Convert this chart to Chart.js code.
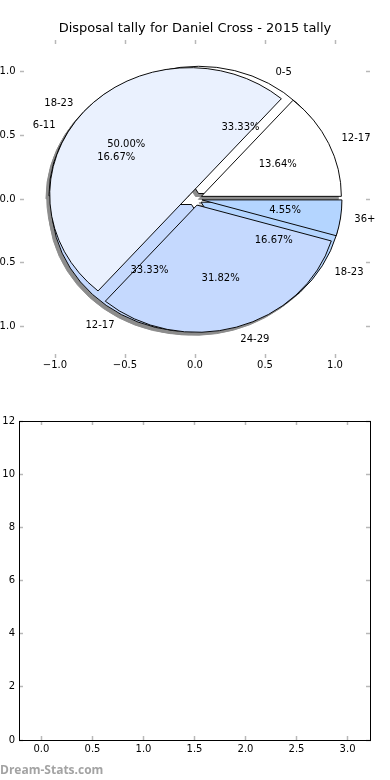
<!DOCTYPE html>
<html><head><meta charset="utf-8">
<script src="https://cdn.jsdelivr.net/npm/chart.js@4.4.1/dist/chart.umd.min.js"></script>
<style>
html,body{margin:0;padding:0;background:#fff;}
#wrap{position:relative;width:390px;height:780px;overflow:hidden;background:#fff;}
.layer{position:absolute;left:0;}
#pies{position:absolute;left:0;top:0;width:390px;height:390px;filter:drop-shadow(-3px 3px 0.5px rgba(0,0,0,0.45));}
#wm{position:absolute;left:0;top:761px;font:bold 12px "Open Sans";color:#a3a3a3;white-space:nowrap;}
</style></head><body>
<div id="wrap">
 <div id="pies">
  <canvas id="pieY" class="layer" width="390" height="390" style="top:0"></canvas>
  <canvas id="pieX" class="layer" width="390" height="390" style="top:0"></canvas>
 </div>
 <canvas id="axesTop" class="layer" width="390" height="390" style="top:0"></canvas>
 <canvas id="bottom" class="layer" width="390" height="390" style="top:390px"></canvas>
 <div id="wm">Dream-Stats.com</div>
</div>
<script>
// ---- data ----
const chartTitle = 'Disposal tally for Daniel Cross - 2015 tally';
const outerCategories = ['12-17', '18-23', '24-29', '36+'];
const outerValues = [3, 11, 7, 1];
const innerCategories = ['0-5', '6-11', '12-17', '18-23'];
const innerValues = [2, 1, 2, 1];
const sliceColors = ['#ffffff', '#eaf1fe', '#c5d9fe', '#b4d5ff'];
const pieTicks = [-1, -0.5, 0, 0.5, 1];
const lowerXTicks = [0, 0.5, 1, 1.5, 2, 2.5, 3];
const lowerYTicks = [0, 2, 4, 6, 8, 10, 12];
const lowerSeries = [];

// ---- styling helpers ----
const FONT = '"DejaVu Sans", sans-serif';
const EXPLODE = 0.05;
const fmt1 = v => (v < 0 ? '\u2212' : '') + Math.abs(v).toFixed(1);
const fmt0 = v => String(v);

function mkScale(position, ticksArr, fmtFn, showLabels, frame, fitSize, pad, min, max) {
  const vertical = position === 'left' || position === 'right';
  return {
    type: 'linear', position, min, max,
    afterBuildTicks: s => { s.ticks = ticksArr.map(v => ({ value: v })); },
    afterFit: s => { if (vertical) s.width = fitSize; else s.height = fitSize; },
    ticks: { display: showLabels, callback: v => fmtFn(v), padding: pad, color: '#000',
             font: { family: FONT, size: 10 }, autoSkip: false, maxRotation: 0, minRotation: 0 },
    grid: { display: true, drawOnChartArea: false, drawTicks: true, tickLength: -4,
            tickColor: '#b8b8b8', tickWidth: 1.5 },
    border: { display: frame, color: '#000', width: 1 }
  };
}

let pies = [];
let geo = null;

const labelPlugin = {
  id: 'pieLabels',
  afterDraw(chart) {
    if (!geo || !pies.length) return;
    const ctx = chart.ctx;
    ctx.save();
    ctx.font = '10px ' + FONT;
    ctx.fillStyle = '#000';
    ctx.textBaseline = 'middle';
    pies.forEach(p => {
      const meta = p.getDatasetMeta(0);
      const data = p.data.datasets[0].data;
      const total = data.reduce((a, b) => a + b, 0);
      meta.data.forEach((arc, i) => {
        const mid = (arc.startAngle + arc.endAngle) / 2;
        const c = Math.cos(mid), s = Math.sin(mid);
        const lx = geo.cx + (EXPLODE + 1.1) * geo.R * c;
        const ly = geo.cy + (EXPLODE + 1.1) * geo.R * geo.ky * s;
        ctx.textAlign = c > 0 ? 'left' : 'right';
        ctx.fillText(p.data.labels[i], lx, ly);
        const px = geo.cx + (EXPLODE + 0.6) * geo.R * c;
        const py = geo.cy + (EXPLODE + 0.6) * geo.R * geo.ky * s;
        ctx.textAlign = 'center';
        ctx.fillText((data[i] / total * 100).toFixed(2) + '%', px, py);
      });
    });
    ctx.restore();
  }
};

const axesTop = new Chart(document.getElementById('axesTop'), {
  type: 'scatter',
  data: { datasets: [{ data: [] }] },
  options: {
    responsive: false, animation: false, devicePixelRatio: 1, events: [],
    layout: { padding: 0 },
    plugins: {
      legend: { display: false }, tooltip: { enabled: false },
      title: { display: true, text: chartTitle, color: '#000',
               font: { family: FONT, size: 13, weight: 'normal', lineHeight: 1.2 },
               padding: { top: 21, bottom: 0 } }
    },
    scales: {
      x: mkScale('bottom', pieTicks, fmt1, true, false, 32, 5, -1.25, 1.25),
      x2: mkScale('top', pieTicks, fmt1, false, false, 3.4, 0, -1.25, 1.25),
      y: mkScale('left', pieTicks, fmt1, true, false, 20, 8.5, -1.25, 1.25),
      y2: mkScale('right', pieTicks, fmt1, false, false, 20, 0, -1.25, 1.25)
    }
  },
  plugins: [labelPlugin]
});

const xs = axesTop.scales.x, ys = axesTop.scales.y, area = axesTop.chartArea;
geo = {
  cx: xs.getPixelForValue(0),
  cy: ys.getPixelForValue(0),
  R: xs.getPixelForValue(1) - xs.getPixelForValue(0)
};
geo.ky = (ys.getPixelForValue(0) - ys.getPixelForValue(1)) / geo.R;

const explodePlugin = {
  id: 'explode',
  afterDatasetsUpdate(chart) {
    chart.getDatasetMeta(0).data.forEach(arc => {
      const mid = (arc.startAngle + arc.endAngle) / 2;
      arc.x += EXPLODE * geo.R * Math.cos(mid);
      arc.y += EXPLODE * geo.R * Math.sin(mid);
    });
  },
  beforeDatasetsDraw(chart) {
    const c = chart.ctx;
    c.save();
    c.translate(geo.cx, geo.cy);
    c.scale(1, geo.ky);
    c.translate(-geo.cx, -geo.cy);
  },
  afterDatasetsDraw(chart) { chart.ctx.restore(); }
};

function makePie(id, cats, vals) {
  const order = cats.map((_, i) => i).reverse(); // counter-clockwise like the source
  return new Chart(document.getElementById(id), {
    type: 'pie',
    data: {
      labels: order.map(i => cats[i]),
      datasets: [{
        data: order.map(i => vals[i]),
        backgroundColor: order.map(i => sliceColors[i % sliceColors.length]),
        borderColor: '#000', borderWidth: 1, borderJoinStyle: 'miter',
        radius: geo.R, clip: false
      }]
    },
    options: {
      responsive: false, animation: false, devicePixelRatio: 1, events: [],
      rotation: 90, radius: geo.R,
      layout: { padding: { left: area.left, right: 390 - area.right, top: area.top, bottom: 390 - area.bottom } },
      plugins: { legend: { display: false }, tooltip: { enabled: false }, title: { display: false } }
    },
    plugins: [explodePlugin]
  });
}

const pieY = makePie('pieY', innerCategories, innerValues);
const pieX = makePie('pieX', outerCategories, outerValues);
pies = [pieY, pieX];
axesTop.draw();

new Chart(document.getElementById('bottom'), {
  type: 'scatter',
  data: { datasets: [{ data: lowerSeries }] },
  options: {
    responsive: false, animation: false, devicePixelRatio: 1, events: [],
    layout: { padding: 0 },
    plugins: { legend: { display: false }, tooltip: { enabled: false } },
    scales: {
      x: mkScale('bottom', lowerXTicks, fmt1, true, true, 40, 7, -0.22, 3.22),
      x2: mkScale('top', lowerXTicks, fmt1, false, true, 31, 0, -0.22, 3.22),
      y: mkScale('left', lowerYTicks, fmt0, true, true, 19, 8, 0, 12),
      y2: mkScale('right', lowerYTicks, fmt0, false, true, 20, 0, 0, 12)
    }
  }
});
</script>
</body></html>
